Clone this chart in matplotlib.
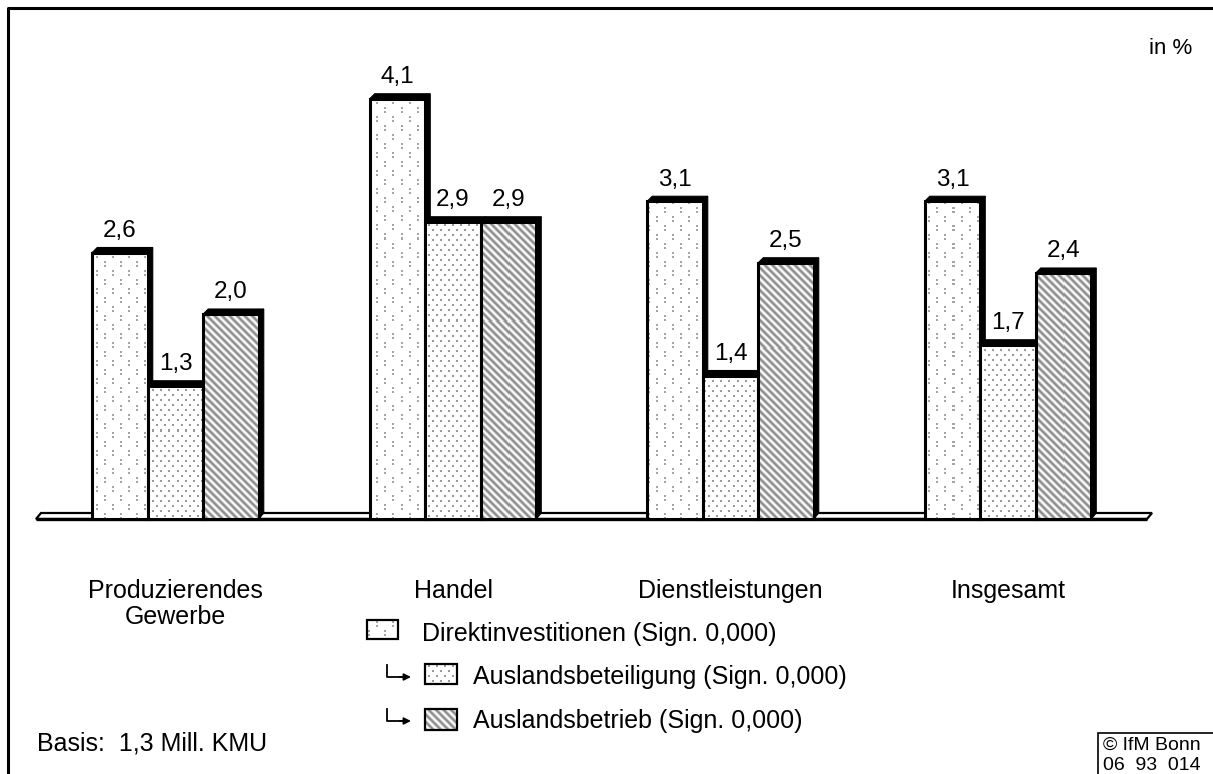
import matplotlib
matplotlib.use("Agg")
import matplotlib.pyplot as plt
from matplotlib.patches import Polygon, Rectangle
import numpy as np

plt.rcParams['font.family'] = ['Liberation Sans', 'DejaVu Sans']

# --- data ---------------------------------------------------------------
categories = ["Produzierendes\nGewerbe", "Handel", "Dienstleistungen", "Insgesamt"]
direkt = [2.6, 4.1, 3.1, 3.1]
beteiligung = [1.3, 2.9, 1.4, 1.7]
betrieb = [2.0, 2.9, 2.5, 2.4]
series_labels = ["Direktinvestitionen (Sign. 0,000)",
                 "Auslandsbeteiligung (Sign. 0,000)",
                 "Auslandsbetrieb (Sign. 0,000)"]

W, H = 1213, 774
FS = 18
fig = plt.figure(figsize=(W / 100, H / 100), dpi=100)


# --- fill textures (one per series), rendered at screen resolution ---------
def texture(kind):
    img = np.ones((H, W))
    ii, jj = np.mgrid[0:H, 0:W]
    if kind == 0:      # paired dots in staggered columns
        for cj in range(0, W, 8):
            col = cj // 8
            off = 0 if col % 2 == 0 else 9
            for ri in range(off, H, 18):
                for d in (0, 4):
                    img[ri + d:ri + d + 2, cj:cj + 2] = 0.65
    elif kind == 1:    # dense staggered dots
        for row, ri in enumerate(range(0, H, 5)):
            off = 0 if row % 2 == 0 else 4
            for cj in range(off, W, 8):
                img[ri:ri + 2, cj:cj + 2] = 0.6
    else:              # diagonal stripes
        ph = (jj - ii) % 7.5 / 7.5
        img = 0.77 + 0.23 * np.cos(2 * np.pi * ph)
    return np.dstack([img, img, img])


textures = [texture(k) for k in range(3)]

# main data axes: group spacing 277.5 px, 102.5 px per percentage point
gx0, gstep = 175.5, 277.5
y0_px, yscale = 519, 102.5
ax = fig.add_axes([0, 0, 1, 1])
xlim = (-gx0 / gstep, (W - gx0) / gstep)
ylim = (-(H - y0_px) / yscale, y0_px / yscale)
ax.axis('off')

# decoration layer in pixel units
deco = fig.add_axes([0, 0, 1, 1], zorder=5)
deco.axis('off')
deco.patch.set_alpha(0)

bw = 0.2
dx = 5 / gstep   # depth of the 3D edge
dy = 5 / yscale

# floor slab
fl_l, fl_r = (36 - gx0) / gstep, (1152 - gx0) / gstep
fh = 6 / yscale
ax.add_patch(Polygon([(fl_l, 0), (fl_l + dx, fh), (fl_r, fh), (fl_r - dx, 0)],
                     closed=True, fc='white', ec='black', lw=1.6, zorder=1))
ax.plot([fl_l, fl_r - dx], [0, 0], color='black', lw=2.4, zorder=1.1,
        solid_capstyle='butt')

x = np.arange(len(categories))
z = 2
for gi in range(len(categories)):
    vals = [direkt[gi], beteiligung[gi], betrieb[gi]]
    for si, v in enumerate(vals):
        xc = x[gi] + (si - 1) * bw
        xl, xr = xc - bw / 2, xc + bw / 2
        # right face and top face, drawn first so the next bar hides them
        ax.add_patch(Polygon([(xr, 0), (xr + dx, fh), (xr + dx, v + dy), (xr, v)],
                             closed=True, fc='black', ec='black', lw=0.8, zorder=z))
        ax.add_patch(Polygon([(xl, v), (xl + dx, v + dy), (xr + dx, v + dy), (xr, v)],
                             closed=True, fc='black', ec='black', lw=0.8, zorder=z))
        bar = ax.bar(xc, v, width=bw, color='white', linewidth=0, zorder=z + 0.1)[0]
        im = ax.imshow(textures[si], extent=(xlim[0], xlim[1], ylim[0], ylim[1]),
                       origin='upper', aspect='auto', interpolation='nearest',
                       zorder=z + 0.15)
        im.set_clip_path(bar)
        ax.bar(xc, v, width=bw, fill=False, edgecolor='black', linewidth=2.2,
               zorder=z + 0.2)
        ax.annotate(f"{v:.1f}".replace('.', ','), (xc, v + dy), xytext=(0, 4),
                    textcoords='offset points', ha='center', va='bottom',
                    fontsize=17.5, zorder=10)
        z += 1

for gi, cat in enumerate(categories):
    ax.text(x[gi], -(579 - y0_px) / yscale, cat, ha='center', va='top',
            fontsize=FS, linespacing=1.12)

ax.set_xlim(*xlim)
ax.set_ylim(*ylim)

# outer frame
deco.plot([8, 8, W + 5], [H + 5, 8, 8], color='black', lw=2.2, clip_on=False)

deco.text(1171, 48, "in %", ha='center', va='center', fontsize=16)
deco.text(37, 743, "Basis:  1,3 Mill. KMU", ha='left', va='center', fontsize=FS)

# copyright box
deco.add_patch(Rectangle((1098, 733), 130, 60, fc='white', ec='black', lw=1.2,
                         clip_on=False))
deco.text(1103, 745, "© IfM Bonn", ha='left', va='center', fontsize=14)
deco.text(1103, 765, "06  93  014", ha='left', va='center', fontsize=14)

# legend
leg_boxes = [(367, 620, 31, 19), (425, 664, 32, 20), (425, 709, 32, 21)]
leg_text = [(422, 634), (473, 677), (473, 721)]
for si, ((bx, by, bwid, bh), (tx, ty)) in enumerate(zip(leg_boxes, leg_text)):
    box = Rectangle((bx, by), bwid, bh, fc='white', lw=0, zorder=2)
    deco.add_patch(box)
    im = deco.imshow(textures[si], extent=(0, W, H, 0), origin='upper',
                     aspect='auto', interpolation='nearest', zorder=2.5)
    im.set_clip_path(box)
    deco.add_patch(Rectangle((bx, by), bwid, bh, fill=False, ec='black', lw=1.6,
                             zorder=3))
    deco.text(tx, ty, series_labels[si], ha='left', va='center', fontsize=FS)
    if si > 0:
        deco.plot([387, 387, 402], [ty - 12, ty, ty], color='black', lw=1.3)
        deco.annotate("", xy=(411, ty), xytext=(400, ty),
                      arrowprops=dict(arrowstyle='-|>', color='black', lw=1.3,
                                      mutation_scale=10, shrinkA=0, shrinkB=0))

deco.set_xlim(0, W)
deco.set_ylim(H, 0)

fig.savefig("out.png", dpi=100)
